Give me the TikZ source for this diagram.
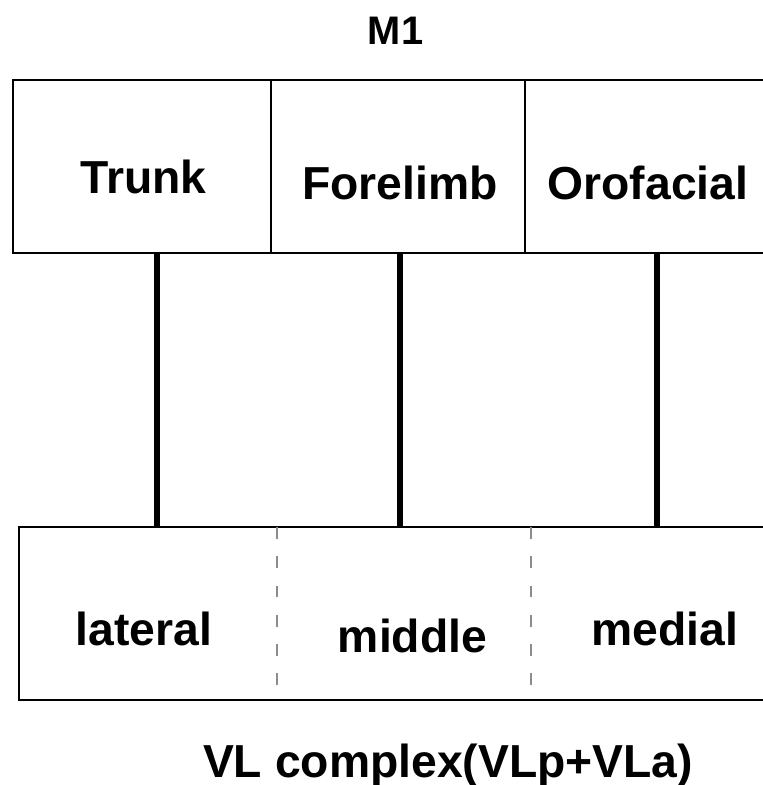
\documentclass[tikz,border=0pt]{standalone}
\usepackage{fontspec}
\setmainfont{Liberation Sans}
\tikzset{
  lbl/.style={anchor=base,inner sep=0pt,font=\fontsize{39.5}{47}\selectfont\bfseries},
  boxline/.style={line width=2.3pt},
  tract/.style={line width=4.3pt},
  divider/.style={line width=1.7pt,gray!90,dash pattern=on 10pt off 15pt}
}
\begin{document}
\begin{tikzpicture}[x=0.03cm,y=-0.03cm]
\useasboundingbox (0,0) rectangle (763,785);
% cortex row
\node[lbl,font=\fontsize{34}{40}\selectfont\bfseries] (m1) at (395.5,44) {M1};
\draw[boxline] (770,80) -- (13,80) -- (13,253) -- (770,253);
\draw[boxline] (271,80) -- (271,253);
\draw[boxline] (525,80) -- (525,253);
\node[lbl] (trunk) at (143.5,193) {Trunk};
\node[lbl] (forelimb) at (400,199) {Forelimb};
\node[lbl] (orofacial) at (648,199) {Orofacial};
% thalamus row
\draw[boxline] (770,527) -- (19,527) -- (19,700) -- (770,700);
\draw[divider] (277,527) -- (277,700);
\draw[divider] (531,527) -- (531,700);
\node[lbl] (lateral) at (144,645) {lateral};
\node[lbl] (middle) at (412.5,652) {middle};
\node[lbl] (medial) at (665,645) {medial};
\node[lbl] (vl) at (448,777) {VL complex(VLp+VLa)};
% projections
\coordinate (trunkB) at (157,253);
\coordinate (forelimbB) at (400,253);
\coordinate (orofacialB) at (657,253);
\coordinate (lateralT) at (157,527);
\coordinate (middleT) at (400,527);
\coordinate (medialT) at (657,527);
\draw[tract] (trunkB) -- (lateralT);
\draw[tract] (forelimbB) -- (middleT);
\draw[tract] (orofacialB) -- (medialT);
\end{tikzpicture}
\end{document}
